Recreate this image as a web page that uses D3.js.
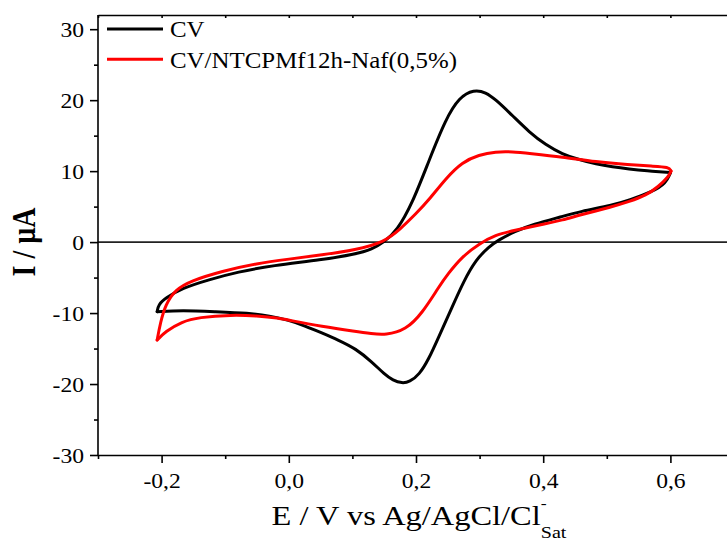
<!DOCTYPE html>
<html>
<head>
<meta charset="utf-8">
<script src="https://cdn.jsdelivr.net/npm/d3@7"></script>
<style>
  html, body { margin: 0; padding: 0; background: #fff; overflow: hidden; }
  svg { display: block; }
  text { font-family: "Liberation Serif", "Times New Roman", serif; fill: #000; }
</style>
</head>
<body>
<svg id="chart" width="727" height="541"></svg>
<script>
// ---------------- data ----------------
const seriesNames = ["CV", "CV/NTCPMf12h-Naf(0,5%)"];
const seriesColors = ["#000000", "#ff0000"];

// bare electrode: forward scan then reverse scan (E in V, I in µA)
const cvPotential = [-0.207,-0.205,-0.194,-0.168,-0.126,-0.080,-0.026,0.052,0.105,0.131,0.150,0.170,0.194,0.220,0.247,0.268,0.291,0.310,0.325,0.352,0.378,0.404,0.430,0.457,0.483,0.509,0.535,0.562,0.600,
  0.600,0.593,0.572,0.535,0.509,0.457,0.430,0.384,0.355,0.330,0.315,0.294,0.275,0.255,0.236,0.220,0.205,0.190,0.178,0.164,0.150,0.131,0.105,0.078,0.052,0.025,0.0,-0.030,-0.063,-0.116,-0.168,-0.207];
const cvCurrent = [-9.8,-8.8,-7.9,-6.5,-5.3,-4.2,-3.3,-2.5,-1.7,-1.0,0.0,1.6,5.4,11.4,17.4,20.4,21.5,21.1,20.1,17.8,15.5,13.7,12.4,11.6,11.0,10.6,10.3,10.05,9.8,
  9.7,8.3,7.1,5.9,5.2,4.3,3.6,2.5,1.5,0.3,-0.6,-2.5,-5.5,-9.5,-13.3,-16.5,-18.7,-19.7,-19.9,-19.5,-18.6,-16.9,-15.0,-13.8,-12.8,-11.8,-11.0,-10.4,-10.0,-9.8,-9.6,-9.8];

// modified electrode
const nafPotential = [-0.207,-0.202,-0.194,-0.178,-0.155,-0.105,-0.050,0.0,0.052,0.105,0.150,0.175,0.200,0.220,0.247,0.273,0.299,0.325,0.352,0.378,0.430,0.483,0.535,0.571,0.598,
  0.601,0.597,0.581,0.562,0.535,0.509,0.457,0.430,0.404,0.352,0.325,0.300,0.273,0.250,0.236,0.210,0.184,0.152,0.130,0.105,0.052,0.0,-0.016,-0.050,-0.090,-0.142,-0.168,-0.194,-0.207];
const nafCurrent = [-13.8,-11.4,-8.8,-6.7,-5.5,-4.1,-3.0,-2.4,-1.8,-1.1,0.0,1.8,4.0,5.9,9.0,11.3,12.3,12.75,12.75,12.5,12.0,11.3,10.9,10.7,10.6,
  10.0,9.2,7.8,6.6,5.7,5.0,3.8,3.1,2.6,1.6,1.0,-0.2,-2.0,-4.5,-6.3,-10.0,-12.4,-13.1,-12.9,-12.6,-11.9,-11.0,-10.7,-10.4,-10.25,-10.6,-11.2,-12.6,-13.8];

const xMajorTicks = [-0.2, 0.0, 0.2, 0.4, 0.6];
const xTickLabels = ["-0,2", "0,0", "0,2", "0,4", "0,6"];
const xMinorTicks = [-0.3, -0.1, 0.1, 0.3, 0.5, 0.7];
const yMajorTicks = [-30, -20, -10, 0, 10, 20, 30];
const yTickLabels = ["-30", "-20", "-10", "0", "10", "20", "30"];
const yMinorTicks = [-25, -15, -5, 5, 15, 25];

// ---------------- layout ----------------
const svg = d3.select("#chart");
const mLeft = 98, mTop = 15, mBottom = 455, mRight = 734;
const SX = 1.18; // horizontal stretch of glyphs seen in the reference

const x = d3.scaleLinear().domain([-0.3, 0.7]).range([mLeft, mRight]);
const y = d3.scaleLinear().domain([-30, 32]).range([mBottom, mTop]);

// zero line
svg.append("line")
  .attr("x1", mLeft).attr("x2", mRight)
  .attr("y1", y(0)).attr("y2", y(0))
  .attr("stroke", "#222").attr("stroke-width", 1.6);

// curves: each loop split at the anodic turnaround into forward / reverse scans
const line = d3.line().x(d => x(d[0])).y(d => y(d[1])).curve(d3.curveBasis);
function splitScan(E, I) {
  const pts = d3.zip(E, I);
  const k = d3.maxIndex(E);
  return [pts.slice(0, k + 1), pts.slice(k)];
}
const series = [
  { scans: splitScan(cvPotential, cvCurrent), color: seriesColors[0] },
  { scans: splitScan(nafPotential, nafCurrent), color: seriesColors[1] }
];
const sg = svg.append("g").selectAll("g").data(series).join("g")
  .attr("stroke", d => d.color);
sg.selectAll("path").data(d => d.scans).join("path")
  .attr("d", d => line(d))
  .attr("fill", "none")
  .attr("stroke-width", 3)
  .attr("stroke-linejoin", "round")
  .attr("stroke-linecap", "round");

// axes
function styleAxis(g) {
  g.selectAll("path.domain").attr("stroke", "#000").attr("stroke-width", 1.6);
  g.selectAll(".tick line").attr("stroke", "#000").attr("stroke-width", 1.6);
}
// bottom
const gx = svg.append("g").attr("transform", `translate(0,${mBottom})`)
  .call(d3.axisBottom(x).tickValues(xMajorTicks).tickSize(8).tickSizeOuter(0)
        .tickFormat((d, i) => xTickLabels[i]));
styleAxis(gx);
gx.selectAll(".tick text")
  .attr("y", 0).attr("dy", 0)
  .attr("font-size", 20)
  .attr("transform", `translate(0,33) scale(${SX},1)`);
const gxm = svg.append("g").attr("transform", `translate(0,${mBottom})`)
  .call(d3.axisBottom(x).tickValues(xMinorTicks).tickSize(4).tickSizeOuter(0).tickFormat(""));
styleAxis(gxm); gxm.select("path.domain").remove();

// top frame with inward ticks
const gt = svg.append("g").attr("transform", `translate(0,${mTop})`)
  .call(d3.axisTop(x).tickValues(xMajorTicks.concat(xMinorTicks)).tickSize(-3).tickSizeOuter(0).tickFormat(""));
styleAxis(gt);

// left
const gy = svg.append("g").attr("transform", `translate(${mLeft},0)`)
  .call(d3.axisLeft(y).tickValues(yMajorTicks).tickSize(8).tickSizeOuter(0)
        .tickFormat((d, i) => yTickLabels[i]));
styleAxis(gy);
gy.select("path.domain").attr("d", `M0,${mBottom}V${mTop}`);
gy.selectAll(".tick text")
  .attr("x", 0).attr("dy", "0.35em")
  .attr("font-size", 20)
  .attr("transform", `translate(-14,0) scale(${SX},1)`);
const gym = svg.append("g").attr("transform", `translate(${mLeft},0)`)
  .call(d3.axisLeft(y).tickValues(yMinorTicks).tickSize(4).tickSizeOuter(0).tickFormat(""));
styleAxis(gym); gym.select("path.domain").remove();

// legend
const legend = svg.append("g");
seriesNames.forEach((name, i) => {
  const ly = 29 + i * 30.3;
  legend.append("line")
    .attr("x1", 107).attr("x2", 163).attr("y1", ly).attr("y2", ly)
    .attr("stroke", seriesColors[i]).attr("stroke-width", 3);
  legend.append("text")
    .attr("font-size", 23.5)
    .attr("dy", "0.35em")
    .attr("transform", `translate(170,${ly}) scale(1.06,1)`)
    .text(name);
});

// axis titles
const xt = svg.append("text")
  .attr("font-size", 27.5)
  .attr("text-anchor", "middle")
  .attr("transform", `translate(${(mLeft + mRight) / 2 + 3},525) scale(${SX},1)`);
xt.append("tspan").text("E / V vs Ag/AgCl/Cl");
xt.append("tspan").attr("font-size", 15).attr("dy", -17).text("-");
xt.append("tspan").attr("font-size", 17).attr("dx", -5).attr("dy", 30).text("Sat");

svg.append("text")
  .attr("font-size", 28)
  .attr("font-weight", "bold")
  .attr("text-anchor", "middle")
  .attr("transform", `translate(35,242) scale(${SX},1) rotate(-90)`)
  .text("I / µA");
</script>
</body>
</html>
